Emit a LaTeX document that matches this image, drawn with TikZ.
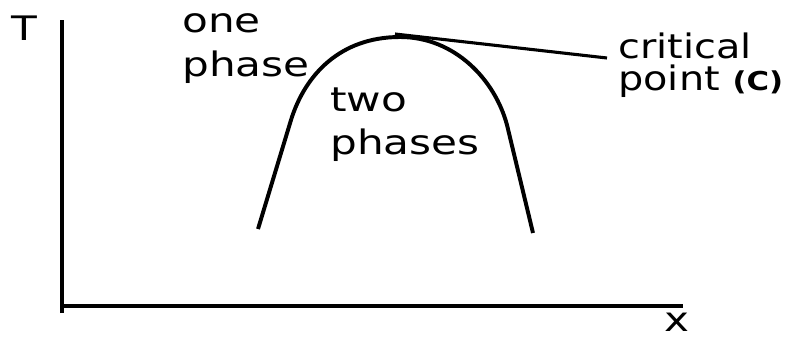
\documentclass[tikz,border=0pt]{standalone}
\usepackage{fontspec}
\setmainfont{DejaVu Sans}

\tikzset{
    axisline/.style={line width=2.8pt},
    boundary/.style={line width=2.8pt, line join=round},
    leader/.style={line width=2.2pt},
    lbl/.style={font=\fontsize{24pt}{30.6pt}\selectfont, inner sep=0pt, xscale=1.25, align=left},
}

\begin{document}
\begin{tikzpicture}
    \useasboundingbox (0,0) rectangle (19.7,8.45);

    \coordinate (O) at (1.55,0.8);
    \coordinate (Ytop) at (1.55,7.95);
    \coordinate (Ybot) at (1.55,0.62);
    \coordinate (Xend) at (17.075,0.8);

    % axes
    \draw[axisline] (Ybot) -- (Ytop);
    \draw[axisline] (O) -- (Xend);
    \node[lbl] (T) at (0.6,7.74) {T};
    \node[lbl] (x) at (16.93,0.4) {x};

    % ends of the two-phase boundary and its top
    \coordinate (L) at (6.45,2.725);
    \coordinate (R) at (13.325,2.625);
    \coordinate (C) at (10,7.525);

    % coexistence curve
    \draw[boundary] (L) -- (7.275,5.45) .. controls (7.625,6.575) and (8.5,7.525) .. (C)
        .. controls (11.375,7.525) and (12.375,6.45) .. (12.675,5.325) -- (R);

    % leader from the top of the curve to its label
    \coordinate (Ctip) at (9.875,7.6);
    \coordinate (lead) at (15.175,7.0);
    \draw[leader] (Ctip) -- (lead);

    % labels (base = baseline of the last line)
    \node[lbl, anchor=base west] (one) at (4.55,6.55) {one\\phase};
    \node[lbl, anchor=base west] (two) at (8.25,4.58) {two\\phases};
    \node[lbl, anchor=base west, xscale=0.944, font=\fontsize{24pt}{22.7pt}\selectfont] (crit) at (15.45,6.2)
        {critical\\point {\fontsize{18.5pt}{18pt}\selectfont\bfseries (C)}};
\end{tikzpicture}
\end{document}
